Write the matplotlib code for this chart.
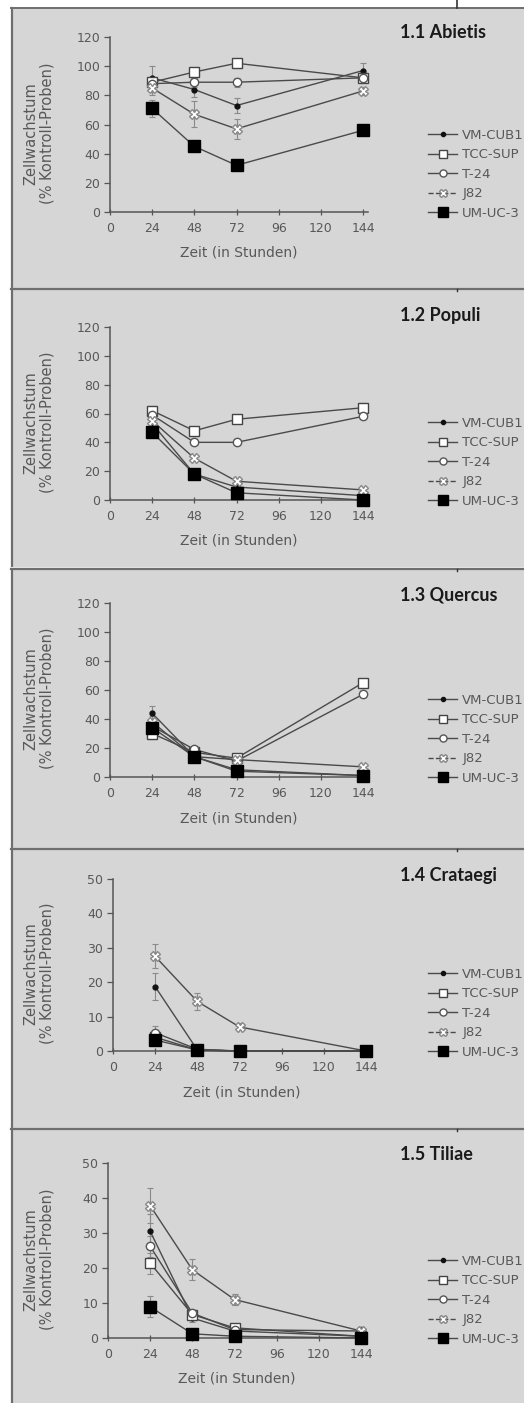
import matplotlib
matplotlib.use('Agg')
import matplotlib.pyplot as plt
from matplotlib.lines import Line2D
from matplotlib.patches import Rectangle

plt.rcParams['font.family'] = ['DejaVu Sans']

## Data
hours   = [24, 48, 72, 144]
series  = ['VM-CUB1', 'TCC-SUP', 'T-24', 'J82', 'UM-UC-3']
titles  = ['1.1 Abietis', '1.2 Populi', '1.3 Quercus', '1.4 Crataegi', '1.5 Tiliae']
ymaxes  = [120, 120, 120, 50, 50]
ysteps  = [20, 20, 20, 10, 10]
xticks  = [0, 24, 48, 72, 96, 120, 144]

abietis_mean = [[92, 84, 73, 97], [89, 96, 102, 92], [88, 89, 89, 92], [85, 67, 57, 83], [71, 45, 32, 56]]
abietis_err  = [[8, 5, 5, 5], [3, 3, 3, 3], [3, 3, 3, 3], [5, 9, 7, 3], [6, 2, 2, 2]]
populi_mean  = [[53, 18, 9, 3], [62, 48, 56, 64], [59, 40, 40, 58], [55, 29, 13, 7], [47, 18, 5, 0]]
populi_err   = [[3, 2, 2, 1], [3, 2, 2, 3], [3, 2, 2, 2], [3, 2, 2, 1], [3, 2, 2, 1]]
quercus_mean = [[44, 14, 5, 1], [30, 17, 13, 65], [35, 19, 11, 57], [38, 14, 12, 7], [34, 14, 4, 1]]
quercus_err  = [[5, 2, 1, 1], [4, 3, 2, 2], [4, 2, 2, 2], [4, 3, 2, 1], [3, 2, 1, 1]]
crataegi_mean = [[18.7, 0.3, 0, 0], [4, 0.3, 0, 0], [5.3, 0.5, 0, 0], [27.5, 14.4, 7, 0], [3.2, 0.3, 0, 0]]
crataegi_err  = [[4, 0.3, 0, 0], [1.5, 0.3, 0, 0], [2, 0.3, 0, 0], [3.5, 2.5, 1, 0], [1, 0.3, 0, 0]]
tiliae_mean = [[30.5, 5.7, 2, 0.5], [21.4, 6.7, 2.9, 0.5], [26.2, 7.1, 2.4, 2], [37.8, 19.5, 11, 2], [8.9, 1.2, 0.5, 0]]
tiliae_err  = [[5, 1, 0.5, 0.3], [3, 1, 0.5, 0.3], [3, 1, 0.5, 0.3], [5, 3, 1.5, 0.5], [3, 0.5, 0.3, 0.3]]

means  = [abietis_mean, populi_mean, quercus_mean, crataegi_mean, tiliae_mean]
errors = [abietis_err, populi_err, quercus_err, crataegi_err, tiliae_err]

## Layout in pixels (figure is 524 x 1403)
W, H = 524, 1403
panel_tops = [8, 290, 570, 850, 1130]
axis_x0    = [110, 110, 110, 113, 108]
axis_zero  = [212, 500, 777, 1051, 1338]
axis_top   = [37, 327, 603, 879, 1163]

bg     = '#d6d6d6'
border = '#6e6e6e'
ink    = '#4a4a4a'
txt    = '#585858'

styles = {
    'VM-CUB1': dict(marker='o', ms=3.5, mfc='#111111', mec='#111111', ls='-'),
    'TCC-SUP': dict(marker='s', ms=7, mfc='white', mec='#444444', ls='-'),
    'T-24':    dict(marker='o', ms=6, mfc='white', mec='#555555', ls='-'),
    'J82':     dict(marker='X', ms=7, mfc='white', mec='#888888', ls='--'),
    'UM-UC-3': dict(marker='s', ms=8, mfc='black', mec='black', ls='-'),
}

fig = plt.figure(figsize=(W / 100, H / 100), dpi=100)
fig.patch.set_facecolor('white')

def fx(x):
    return x / W

def fy(y):
    return 1 - y / H

# panel background and borders
fig.patches.append(Rectangle((fx(11), 0), 1 - fx(11), fy(8), transform=fig.transFigure,
                             facecolor=bg, edgecolor='none', zorder=-5))
fig.add_artist(Line2D([fx(11.5), fx(11.5)], [0, fy(8)], color=border, lw=1.6))
fig.add_artist(Line2D([fx(11), 1], [fy(8), fy(8)], color=border, lw=1.4))
fig.add_artist(Line2D([fx(457), fx(457)], [fy(8), 1], color='#333333', lw=1.2))
for t in panel_tops[1:]:
    fig.add_artist(Line2D([fx(11), 1], [fy(t - 2.5), fy(t - 2.5)], color='#f0f0f0', lw=0.8))
    fig.add_artist(Line2D([fx(11), 1], [fy(t - 1), fy(t - 1)], color=border, lw=1.6))
    fig.add_artist(Line2D([fx(457), fx(457)], [fy(t - 1), fy(t + 1)], color='#333333', lw=1.0))

xmax = 147
for i in range(5):
    x0 = axis_x0[i]
    wpx = 253 * xmax / 144
    hpx = axis_zero[i] - axis_top[i]
    ax = fig.add_axes([fx(x0), fy(axis_zero[i]), wpx / W, hpx / H])
    ax.set_facecolor('none')
    ax.set_zorder(5)
    ax.set_xlim(0, xmax)
    ax.set_ylim(0, ymaxes[i])

    handles = []
    for k, name in enumerate(series):
        st = styles[name]
        ax.errorbar(hours, means[i][k], yerr=errors[i][k], fmt='none', ecolor='#8a8a8a',
                    elinewidth=0.8, capsize=2, capthick=0.8, clip_on=False, zorder=2)
        ax.plot(hours, means[i][k], color=ink, lw=1.0, ls='-', marker=st['marker'],
                ms=st['ms'], mfc=st['mfc'], mec=st['mec'], mew=1.0,
                clip_on=False, zorder=3 + k)
        handles.append(Line2D([], [], color=ink, lw=1.0, ls=st['ls'], marker=st['marker'],
                              ms=st['ms'] * 0.85, mfc=st['mfc'], mec=st['mec'], mew=1.0))

    for s in ['top', 'right']:
        ax.spines[s].set_visible(False)
    for s in ['left', 'bottom']:
        ax.spines[s].set_color('#555555')
        ax.spines[s].set_linewidth(1.1)

    ax.set_xticks(xticks)
    ax.set_yticks(range(0, ymaxes[i] + 1, ysteps[i]))
    ax.tick_params(axis='x', direction='inout', length=5, width=0.9, color='#555555',
                   labelsize=9, labelcolor=txt, pad=5)
    ax.tick_params(axis='y', direction='out', length=4, width=0.9, color='#555555',
                   labelsize=9, labelcolor=txt, pad=3)

    ax.set_xlabel('Zeit (in Stunden)', fontsize=10, color=txt, va='center')
    ax.xaxis.set_label_coords(0.5, -41 / hpx)
    ax.set_ylabel('Zellwachstum\n(% Kontroll-Proben)', fontsize=10.5, color=txt,
                  va='center', linespacing=1.15)
    ax.yaxis.set_label_coords((39 - x0) / wpx, 0.45)

    fig.text(fx(400), fy(panel_tops[i] + 25), titles[i], fontsize=13, fontweight='bold',
             family=['Lato', 'DejaVu Sans'], color='#1a1a1a', ha='left', va='center')

    ax.legend(handles, series, loc='lower left', frameon=False, fontsize=9.5,
              labelcolor=txt, handlelength=2.2, handletextpad=0.4, labelspacing=0.5,
              borderpad=0, borderaxespad=0,
              bbox_to_anchor=(fx(428), fy(axis_zero[i] + 8)),
              bbox_transform=fig.transFigure)

fig.savefig('out.png', dpi=100, facecolor='white')
